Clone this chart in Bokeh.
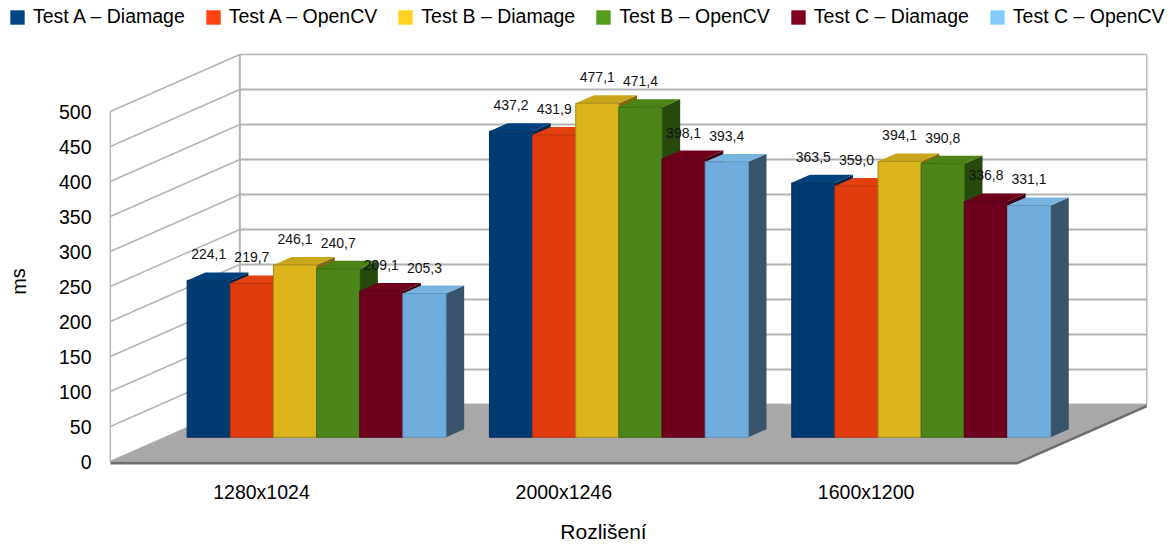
from bokeh.plotting import figure
from bokeh.embed import file_html
from bokeh.resources import INLINE
from bokeh.models import Range1d, FixedTicker, Legend, LegendItem, Label, ColumnDataSource
from bokeh.core.properties import value

# ---- data ----
categories = ["1280x1024", "2000x1246", "1600x1200"]
series_names = ["Test A – Diamage", "Test A – OpenCV", "Test B – Diamage",
                "Test B – OpenCV", "Test C – Diamage", "Test C – OpenCV"]
test_a_diamage = [224.1, 437.2, 363.5]
test_a_opencv = [219.7, 431.9, 359.0]
test_b_diamage = [246.1, 477.1, 394.1]
test_b_opencv = [240.7, 471.4, 390.8]
test_c_diamage = [209.1, 398.1, 336.8]
test_c_opencv = [205.3, 393.4, 331.1]
all_series = [test_a_diamage, test_a_opencv, test_b_diamage,
              test_b_opencv, test_c_diamage, test_c_opencv]
y_ticks = [0, 50, 100, 150, 200, 250, 300, 350, 400, 450, 500]

legend_colors = ["#004586", "#ff420e", "#ffd320", "#579d1c", "#7e0021", "#83caff"]
front_colors = ["#003b72", "#e03c0e", "#dcb51d", "#4c8518", "#6c001d", "#70acdc"]
top_colors = ["#00417d", "#e5400f", "#c9a51b", "#4a8216", "#6e001c", "#78b4e0"]
side_colors = ["#00284e", "#8c2608", "#806a10", "#274a0c", "#3f0012", "#38536a"]
edge_colors = ["#00305c", "#b8320c", "#a58a16", "#3d6c12", "#560017", "#5f94bd"]

FONT = "Liberation Sans"
H = 545
# ---- projection of the oblique 3D view ----
PX_X = 302.3          # pixels per category
PX_Y = 0.7            # pixels per ms
DX = 129.5 / PX_X     # full depth, in categories
DY = 57.0 / PX_Y      # full depth, in ms
BAR_W = 43.15 / PX_X
D0, D1 = 0.4254, 0.5654   # bar depth span
X_LO, X_HI = -0.5, 2.5

def px(c, d):
    return c + d * DX

def py(v, d):
    return v + d * DY

p = figure(width=1166, height=H, output_backend="svg", toolbar_location=None,
           frame_width=1166, frame_height=H,
           min_border_left=0, min_border_right=0, min_border_top=0, min_border_bottom=0,
           x_range=Range1d((0 - 261) / PX_X, (1166 - 261) / PX_X),
           y_range=Range1d((461 - H) / PX_Y, 461 / PX_Y),
           background_fill_color="white", border_fill_color="white")
p.outline_line_color = None
p.xgrid.visible = False
p.ygrid.visible = False

# axes
ya = p.yaxis[0]
ya.ticker = FixedTicker(ticks=y_ticks)
ya.axis_line_color = None
ya.major_tick_line_color = None
ya.major_tick_out = 0
ya.major_tick_in = 0
ya.minor_tick_line_color = None
ya.major_label_standoff = -91
ya.major_label_text_font = FONT
ya.major_label_text_font_size = "19.5px"
ya.major_label_text_color = "black"

xa = p.xaxis[0]
xa.ticker = FixedTicker(ticks=list(range(len(categories))))
xa.major_label_overrides = {i: c for i, c in enumerate(categories)}
xa.axis_line_color = None
xa.major_tick_line_color = None
xa.major_tick_out = 0
xa.major_tick_in = 0
xa.minor_tick_line_color = None
xa.major_label_standoff = 480 - H
xa.major_label_text_font = FONT
xa.major_label_text_font_size = "19.5px"
xa.major_label_text_color = "black"

# walls
GRID = "#b3b3b3"
top_lvl = y_ticks[-1]
p.multi_line(xs=[[px(X_LO, 0), px(X_LO, 1)] for _ in y_ticks],
             ys=[[py(t, 0), py(t, 1)] for t in y_ticks],
             line_color=GRID, line_width=1.4)
p.multi_line(xs=[[px(X_LO, 0), px(X_LO, 0)], [px(X_HI, 1), px(X_HI, 1)], [px(X_LO, 1), px(X_HI, 1)]],
             ys=[[py(0, 0), py(top_lvl, 0)], [py(0, 1), py(top_lvl, 1)], [py(top_lvl, 1), py(top_lvl, 1)]],
             line_color=GRID, line_width=1.4)
p.multi_line(xs=[[px(X_LO, 1), px(X_HI, 1)] for _ in y_ticks[:-1]],
             ys=[[py(t, 1), py(t, 1)] for t in y_ticks[:-1]],
             line_color=GRID, line_width=2)
p.multi_line(xs=[[px(X_LO, 1), px(X_LO, 1)]],
             ys=[[py(0, 1), py(top_lvl, 1)]],
             line_color=GRID, line_width=2)

# floor
THICK = -4.3
p.patch([px(X_LO, 0), px(X_LO, 1), px(X_HI, 1), px(X_HI, 0)],
        [py(0, 0), py(0, 1), py(0, 1), py(0, 0)], fill_color="#a8a8a8", line_color=None)
p.patch([px(X_LO, 0), px(X_HI, 0), px(X_HI, 1), px(X_HI, 1), px(X_HI, 0), px(X_LO, 0)],
        [py(0, 0), py(0, 0), py(0, 1), py(THICK, 1), py(THICK, 0), py(THICK, 0)],
        fill_color="#6e6e6e", line_color=None)

# bars
n = len(all_series)
legend_items = []
nan = float("nan")
for s, vals in enumerate(all_series):
    fx, fy, tx, ty, sx, sy = [], [], [], [], [], []
    for c, v in enumerate(vals):
        x0 = c + (s - n / 2) * BAR_W
        x1 = x0 + BAR_W
        fx.append([px(x0, D0), px(x1, D0), px(x1, D0), px(x0, D0)])
        fy.append([py(0, D0), py(0, D0), py(v, D0), py(v, D0)])
        tx.append([px(x0, D0), px(x0, D1), px(x1, D1), px(x1, D0)])
        ty.append([py(v, D0), py(v, D1), py(v, D1), py(v, D0)])
        sx.append([px(x1, D0), px(x1, D1), px(x1, D1), px(x1, D0)])
        sy.append([py(0, D0), py(0, D1), py(v, D1), py(v, D0)])
    p.patches(sx, sy, fill_color=side_colors[s], line_color=None)
    p.patches(tx, ty, fill_color=top_colors[s], line_color=None)
    p.patches(fx, fy, fill_color=front_colors[s], line_color=edge_colors[s], line_width=1)
    swatch = p.quad(left=[nan], right=[nan], top=[nan], bottom=[nan],
                    fill_color=legend_colors[s], line_color=None)
    legend_items.append(LegendItem(label=series_names[s], renderers=[swatch]))

# data labels
for s, vals in enumerate(all_series):
    src = ColumnDataSource(dict(
        x=[px(c + (s - n / 2 + 0.5) * BAR_W, D0) for c in range(len(vals))],
        y=[py(v, D0) for v in vals],
        t=[f"{v:.1f}".replace(".", ",") for v in vals]))
    p.text(x="x", y="y", text="t", source=src, text_align="center", text_baseline="middle",
           y_offset=-26, text_font=value(FONT), text_font_size=value("14px"), text_color="#111111")

# legend
legend = Legend(items=legend_items, orientation="horizontal", location=(8, H - 28),
                border_line_color=None, background_fill_alpha=0, margin=0, padding=0,
                spacing=19, glyph_width=18, glyph_height=18, label_standoff=7,
                label_text_font=FONT, label_text_font_size="19.5px", label_text_color="black")
p.add_layout(legend)

# axis titles
p.add_layout(Label(x=603, y=H - 542, x_units="screen", y_units="screen", text="Rozlišení",
                   text_font=FONT, text_font_size="21px", text_align="center", text_color="black"))
p.add_layout(Label(x=18, y=H - 281, x_units="screen", y_units="screen", text="ms", angle=1.5708,
                   text_font=FONT, text_font_size="20px", text_align="center", text_baseline="middle",
                   text_color="black"))

open("out.html", "w").write(file_html(p, INLINE))
